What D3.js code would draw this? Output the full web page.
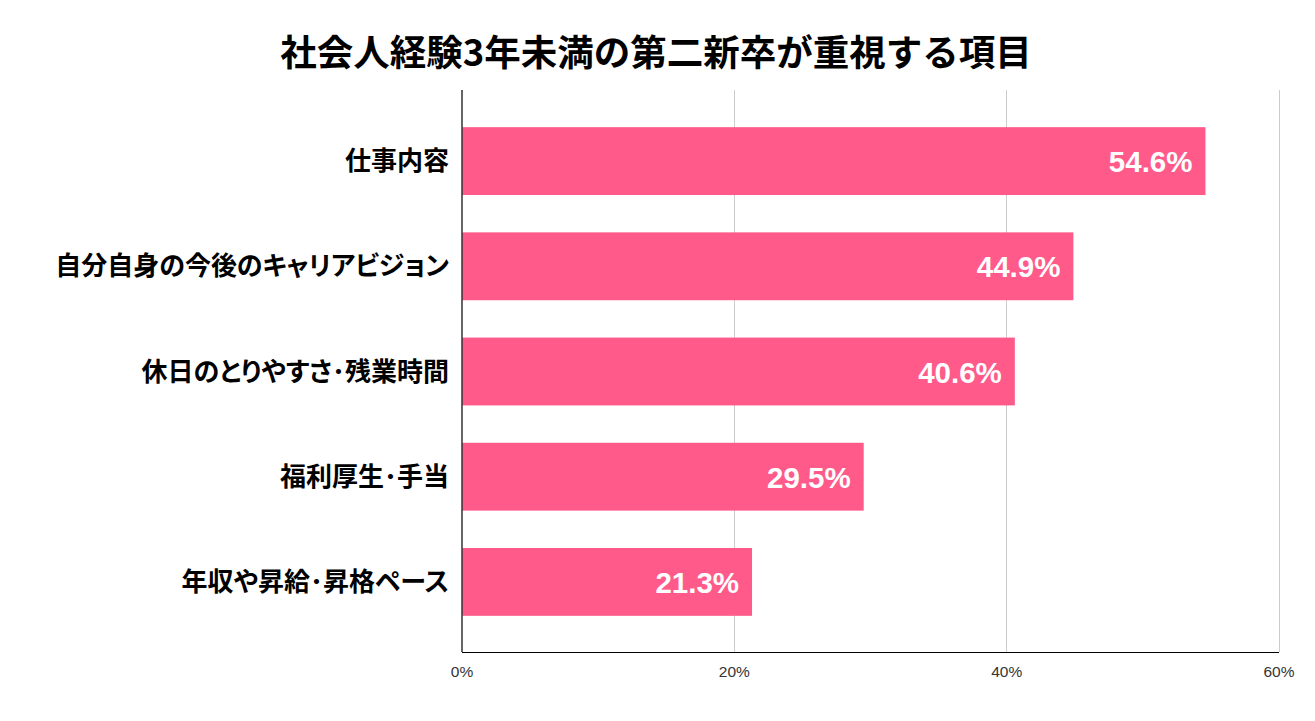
<!DOCTYPE html>
<html><head><meta charset="utf-8">
<script src="https://cdn.jsdelivr.net/npm/d3@7"></script>
<style>body{margin:0;background:#fff}</style>
</head><body>
<svg id="c" width="1315" height="721"></svg>
<script>
const title = "社会人経験3年未満の第二新卒が重視する項目";
const categories = ["仕事内容","自分自身の今後のキャリアビジョン","休日のとりやすさ･残業時間","福利厚生･手当","年収や昇給･昇格ペース"];
const values = [54.6, 44.9, 40.6, 29.5, 21.3];
const ticks = [0, 20, 40, 60];

(function () {
const svg = d3.select("#c");
const pLeft = 462, pRight = 1279, pTop = 90, pBottom = 652;
const x = d3.scaleLinear().domain([0, 60]).range([pLeft, pRight]);
const y = d3.scaleBand().domain(categories).range([108.5, 634.5]).paddingInner(0.355).paddingOuter(0.1775);

svg.append("text").attr("x", 656).attr("y", 66).attr("text-anchor", "middle")
  .attr("font-family", "'Noto Sans CJK JP'").attr("font-weight", "bold").attr("font-size", 36.5)
  .attr("fill", "#000").text(title);

svg.append("g").selectAll("line").data(ticks.slice(1)).join("line")
  .attr("x1", d => x(d)).attr("x2", d => x(d)).attr("y1", pTop).attr("y2", pBottom)
  .attr("stroke", "#cccccc").attr("stroke-width", 1).attr("shape-rendering", "crispEdges");

svg.append("g").selectAll("rect").data(values).join("rect")
  .attr("x", x(0)).attr("y", (d, i) => y(categories[i]))
  .attr("width", d => x(d) - x(0)).attr("height", y.bandwidth())
  .attr("fill", "#ff5a8a");

svg.append("g").selectAll("text").data(values).join("text")
  .attr("x", d => x(d) - 13).attr("y", (d, i) => y(categories[i]) + y.bandwidth() / 2 + 11)
  .attr("text-anchor", "end").attr("font-family", "'Liberation Sans', Arial").attr("font-weight", "bold")
  .attr("font-size", 29.5).attr("fill", "#fff").text(d => d.toFixed(1) + "%");

svg.append("g").selectAll("text").data(categories).join("text")
  .attr("x", 449).attr("y", d => y(d) + y.bandwidth() / 2 + 9)
  .attr("text-anchor", "end").attr("font-family", "'Noto Sans CJK JP'").attr("font-weight", "bold")
  .style("font-feature-settings", "'palt' 1")
  .attr("font-size", 26).attr("fill", "#000").text(d => d);

svg.append("line").attr("x1", pLeft).attr("x2", pLeft).attr("y1", pTop).attr("y2", pBottom)
  .attr("stroke", "#333").attr("stroke-width", 1.5);
svg.append("line").attr("x1", pLeft).attr("x2", pRight).attr("y1", pBottom).attr("y2", pBottom)
  .attr("stroke", "#000").attr("stroke-width", 1).attr("shape-rendering", "crispEdges");

svg.append("g").selectAll("text").data(ticks).join("text")
  .attr("x", d => x(d)).attr("y", 677).attr("text-anchor", "middle")
  .attr("font-family", "'Liberation Sans', Arial").attr("font-size", 15.5).attr("fill", "#333")
  .text(d => d + "%");
})();
</script>
</body></html>
